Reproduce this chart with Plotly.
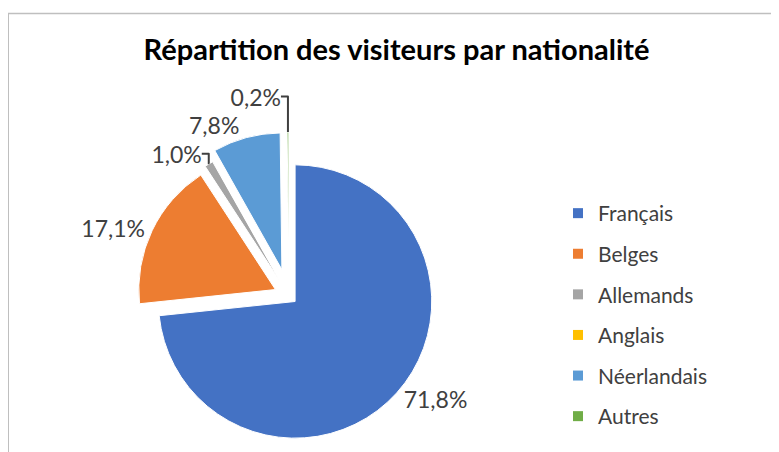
import plotly.graph_objects as go

# ---- data ----
categories = ["Français", "Belges", "Allemands", "Anglais", "Néerlandais", "Autres"]
values = [71.8, 17.1, 1.0, 0.0, 7.8, 0.2]
colors = ["#4472C4", "#ED7D31", "#A5A5A5", "#FFC000", "#5B9BD5", "#70AD47"]
pulls = [0.06, 0.11, 0.13, 0.0, 0.20, 0.20]
title_text = "Répartition des visiteurs par nationalité"

W, H = 779, 452
label_text = [(f"{v:.1f}%".replace(".", ",") if v > 0 else "") for v in values]

# pie box (figure pixels)
cx, cy, half = 281, 288, 164

fig = go.Figure()
fig.add_trace(go.Pie(
    labels=categories,
    values=values,
    text=label_text,
    texttemplate="%{text}",
    textinfo="text",
    textposition="outside",
    textfont=dict(family="Lato", size=23, color="#404040"),
    marker=dict(colors=colors, line=dict(color="white", width=1)),
    pull=pulls,
    sort=False,
    direction="clockwise",
    rotation=0,
    showlegend=False,
    hoverinfo="label+percent",
    domain=dict(x=[(cx - half) / W, (cx + half) / W], y=[0, (H - cy + half) / H]),
))

# legend entries (one per category)
for name, col in zip(categories, colors):
    fig.add_trace(go.Scatter(
        x=[None], y=[None], mode="markers", name=name, legendgroup=name,
        marker=dict(symbol="square", size=10, color=col),
        showlegend=True, hoverinfo="skip",
    ))

fig.update_layout(
    width=W, height=H,
    margin=dict(l=0, r=0, t=0, b=0, autoexpand=False),
    paper_bgcolor="white", plot_bgcolor="white",
    title=dict(text=title_text, x=388.5 / W, xanchor="center",
               y=1 - 42 / H, yanchor="middle",
               font=dict(family="Lato", size=29, color="#000000", weight="bold")),
    legend=dict(x=550 / W, xanchor="left", y=1 - 185 / H, yanchor="top",
                font=dict(family="Lato", size=21, color="#404040"),
                tracegroupgap=10.3, itemwidth=30, bgcolor="rgba(0,0,0,0)"),
    xaxis=dict(visible=False), yaxis=dict(visible=False),
    shapes=[
        dict(type="line", xref="paper", yref="paper", x0=0, x1=1.01, y0=1 - 5.5 / H, y1=1 - 5.5 / H,
             line=dict(color="#BFBFBF", width=1.5)),
        dict(type="line", xref="paper", yref="paper", x0=0, x1=0, y0=1 - 5.5 / H, y1=-0.01,
             line=dict(color="#BFBFBF", width=2)),
    ],
)

fig.write_html("out.html")
